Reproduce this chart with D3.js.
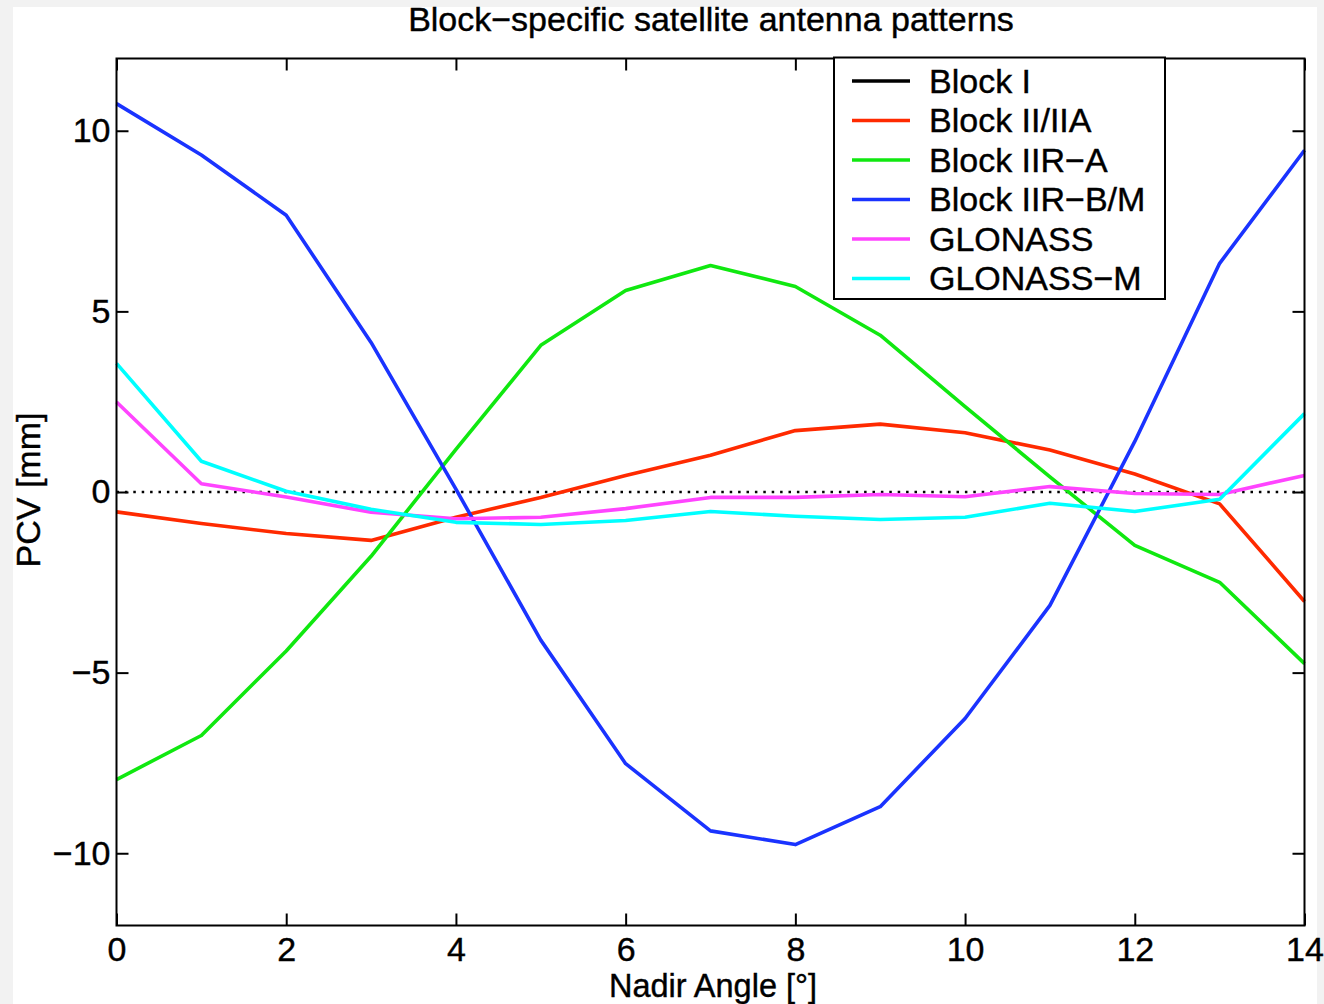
<!DOCTYPE html>
<html>
<head>
<meta charset="utf-8">
<script src="https://cdn.jsdelivr.net/npm/d3@7"></script>
<style>
  html, body { margin: 0; padding: 0; background: #f2f2f2; }
  svg { display: block; }
  text { font-family: "Liberation Sans", Arial, Helvetica, sans-serif; fill: #000; stroke: #000; stroke-width: 0.4px; }
</style>
</head>
<body>
<svg id="chart" width="1324" height="1004"></svg>
<script>
// ---------- data ----------
const nadirAngles = [0, 1, 2, 3, 4, 5, 6, 7, 8, 9, 10, 11, 12, 13, 14];
const seriesNames = ["Block I", "Block II/IIA", "Block IIR\u2212A", "Block IIR\u2212B/M", "GLONASS", "GLONASS\u2212M"];
const seriesColors = ["#000000", "#ff2a00", "#10e810", "#1a33ff", "#ff44ff", "#00ffff"];
const blockI = [];
const blockII = [-0.55, -0.87, -1.15, -1.34, -0.70, -0.15, 0.46, 1.02, 1.70, 1.88, 1.64, 1.16, 0.50, -0.33, -3.03];
const blockIIRA = [-7.96, -6.74, -4.40, -1.78, 1.18, 4.06, 5.58, 6.27, 5.69, 4.34, 2.36, 0.42, -1.48, -2.50, -4.75];
const blockIIRBM = [10.75, 9.33, 7.66, 4.14, 0.08, -4.10, -7.52, -9.38, -9.76, -8.71, -6.27, -3.14, 1.40, 6.33, 9.46];
const glonass = [2.49, 0.23, -0.14, -0.56, -0.74, -0.70, -0.46, -0.15, -0.15, -0.07, -0.13, 0.15, -0.04, -0.07, 0.46];
const glonassM = [3.56, 0.85, 0.02, -0.48, -0.84, -0.90, -0.79, -0.54, -0.67, -0.76, -0.70, -0.31, -0.54, -0.20, 2.17];
const seriesValues = [blockI, blockII, blockIIRA, blockIIRBM, glonass, glonassM];
const xTicks = [0, 2, 4, 6, 8, 10, 12, 14];
const yTicks = [-10, -5, 0, 5, 10];
const titleText = "Block\u2212specific satellite antenna patterns";
const xLabel = "Nadir Angle [\u00b0]";
const yLabel = "PCV [mm]";

// ---------- layout ----------
const svg = d3.select("#chart");
const FS = 34;
svg.append("rect").attr("x", 13).attr("y", 7).attr("width", 1304).attr("height", 997).attr("fill", "#ffffff");

const x = d3.scaleLinear().domain([0, 14]).range([116.5, 1304.5]);
const y = d3.scaleLinear().domain([-12, 12]).range([925.5, 58.5]);

const fmt = d => (d < 0 ? "\u2212" + Math.abs(d) : String(d));
const TL = 12;

// bottom axis
const gB = svg.append("g").attr("transform", `translate(0,${y(-12)})`)
  .call(d3.axisBottom(x).tickValues(xTicks).tickFormat(fmt).tickSizeInner(-TL).tickSizeOuter(0).tickPadding(11));
// top axis
const gT = svg.append("g").attr("transform", `translate(0,${y(12)})`)
  .call(d3.axisTop(x).tickValues(xTicks).tickFormat("").tickSizeInner(-TL).tickSizeOuter(0));
// left axis
const gL = svg.append("g").attr("transform", `translate(${x(0)},0)`)
  .call(d3.axisLeft(y).tickValues(yTicks).tickFormat(fmt).tickSizeInner(-TL).tickSizeOuter(0).tickPadding(6));
// right axis
const gR = svg.append("g").attr("transform", `translate(${x(14)},0)`)
  .call(d3.axisRight(y).tickValues(yTicks).tickFormat("").tickSizeInner(-TL).tickSizeOuter(0));

[gB, gT, gL, gR].forEach(g => {
  g.select(".domain").remove();
  g.selectAll(".tick line").attr("stroke", "#000").attr("stroke-width", 2);
  g.selectAll(".tick text").attr("font-size", FS).attr("font-family", "'Liberation Sans', Arial, Helvetica, sans-serif").attr("fill", "#000");
});

// zero dotted line
svg.append("line")
  .attr("x1", x(0)).attr("x2", x(14)).attr("y1", y(0)).attr("y2", y(0))
  .attr("stroke", "#000").attr("stroke-width", 2.5).attr("stroke-dasharray", "2.5,5.9");

// series lines
const line = d3.line().x((d, i) => x(nadirAngles[i])).y(d => y(d));
seriesValues.forEach((vals, k) => {
  if (!vals.length) return;
  svg.append("path").datum(vals)
    .attr("d", line)
    .attr("fill", "none")
    .attr("stroke", seriesColors[k])
    .attr("stroke-width", 3.6)
    .attr("stroke-linejoin", "round");
});

// axes box
svg.append("rect")
  .attr("x", x(0)).attr("y", y(12)).attr("width", x(14) - x(0)).attr("height", y(-12) - y(12))
  .attr("fill", "none").attr("stroke", "#000").attr("stroke-width", 2);

// title & labels
svg.append("text").attr("x", 711).attr("y", 31).attr("text-anchor", "middle").attr("font-size", FS).text(titleText);
svg.append("text").attr("x", 713).attr("y", 996.5).attr("text-anchor", "middle").attr("font-size", 32.5).text(xLabel);
svg.append("text").attr("transform", "translate(40,490) rotate(-90)").attr("text-anchor", "middle").attr("font-size", FS).text(yLabel);

// legend
const lg = svg.append("g");
lg.append("rect").attr("x", 834).attr("y", 57.5).attr("width", 331).attr("height", 241.5)
  .attr("fill", "#ffffff").attr("stroke", "#000").attr("stroke-width", 2);
seriesNames.forEach((name, k) => {
  const ry = 81 + k * 39.5;
  lg.append("line").attr("x1", 852).attr("x2", 910).attr("y1", ry).attr("y2", ry)
    .attr("stroke", seriesColors[k]).attr("stroke-width", 3.4);
  lg.append("text").attr("x", 929).attr("y", ry + 11.5).attr("font-size", FS).text(name);
});
</script>
</body>
</html>
